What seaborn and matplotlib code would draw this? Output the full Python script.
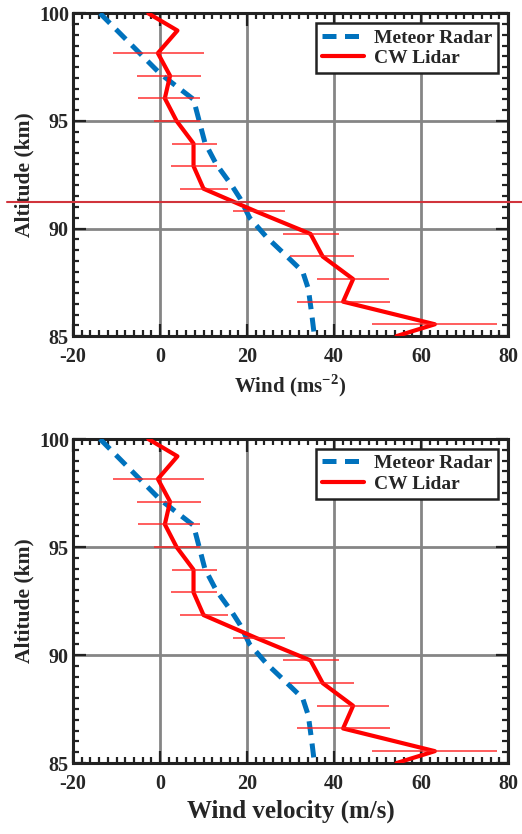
import numpy as np
import pandas as pd
import matplotlib
matplotlib.use('Agg')
import matplotlib.pyplot as plt
from matplotlib.ticker import MultipleLocator
import seaborn as sns

# Meteor radar profile
radar_alt = [100.0, 97.2, 96.0, 95.0, 94.0, 93.0, 92.0, 91.4, 90.5, 89.6, 88.7, 88.0, 87.2, 86.0, 85.0]
radar_wind = [-13.8, 0.0, 7.7, 9.0, 10.3, 12.9, 16.5, 18.4, 20.6, 24.5, 29.2, 32.8, 34.1, 34.9, 35.5]

# CW lidar profile
lidar_alt = [100.0, 99.2, 98.15, 97.1, 96.05, 95.0, 93.95, 92.9, 91.85, 90.8, 89.75, 88.7, 87.65, 86.6, 85.55, 85.0]
lidar_wind = [-2.7, 4.0, -0.5, 2.3, 1.1, 3.8, 7.7, 7.7, 10.0, 22.0, 34.6, 37.4, 44.4, 42.1, 63.2, 54.4]

# lidar error bars (left / right ends)
bar_alt = [98.15, 97.1, 96.05, 95.0, 93.95, 92.9, 91.85, 90.8, 89.75, 88.7, 87.65, 86.6, 85.55]
bar_lo = [-10.9, -5.2, -5.0, -1.4, 2.7, 2.6, 4.6, 16.7, 28.3, 30.0, 36.0, 31.5, 48.8]
bar_hi = [10.0, 9.4, 9.2, 9.2, 13.0, 13.0, 15.6, 28.7, 41.2, 44.6, 52.7, 52.9, 77.5]

xticks = [-20, 0, 20, 40, 60, 80]
yticks = [85, 90, 95, 100]
marker_alt = 91.22  # stray red line across the top panel

sns.set_style('white')
plt.rcParams['font.family'] = ['Liberation Serif', 'DejaVu Serif']
plt.rcParams['font.weight'] = 'bold'
plt.rcParams['axes.labelweight'] = 'bold'
plt.rcParams['axes.unicode_minus'] = False
plt.rcParams['mathtext.fontset'] = 'custom'
plt.rcParams['mathtext.rm'] = 'Liberation Serif:bold'
plt.rcParams['mathtext.bf'] = 'Liberation Serif:bold'

radar = pd.DataFrame({'alt': radar_alt, 'wind': radar_wind})
lidar = pd.DataFrame({'alt': lidar_alt, 'wind': lidar_wind})
bars = pd.DataFrame({'alt': bar_alt, 'lo': bar_lo, 'hi': bar_hi})

fig = plt.figure(figsize=(5.22, 8.34), dpi=100)
ax1 = fig.add_axes([0.140, 0.597, 0.833, 0.387])
ax2 = fig.add_axes([0.140, 0.0851, 0.833, 0.3885])


def draw_panel(ax, xlabel, xlabel_size):
    ax.grid(True, which='major', color='#858585', lw=2.0, zorder=0)
    ax.set_axisbelow(True)
    sns.lineplot(data=radar, x='wind', y='alt', sort=False, estimator=None, ax=ax,
                 color='#0072BD', lw=3.6, linestyle=(0, (2.8, 1.7)),
                 label='Meteor Radar', zorder=3)
    sns.lineplot(data=lidar, x='wind', y='alt', sort=False, estimator=None, ax=ax,
                 color='#ff0000', lw=3.0, label='CW Lidar', zorder=4)
    ax.hlines(bars['alt'], bars['lo'], bars['hi'], color='#ff2020', lw=1.2,
              alpha=0.85, zorder=4)

    ax.set_xlim(-20, 80)
    ax.set_ylim(85, 100)
    ax.set_xticks(xticks)
    ax.set_yticks(yticks)
    ax.xaxis.set_minor_locator(MultipleLocator(2))
    ax.yaxis.set_minor_locator(MultipleLocator(0.5))
    ax.tick_params(which='both', direction='in', top=True, right=True,
                   bottom=True, left=True, width=1.6, color='#222222')
    ax.tick_params(which='major', length=9, labelsize=14.5)
    ax.tick_params(axis='x', which='major', pad=8)
    ax.tick_params(axis='y', which='major', pad=3)
    ax.tick_params(which='minor', length=4.5)
    for lab in ax.get_xticklabels() + ax.get_yticklabels():
        lab.set_fontweight('bold')
    for sp in ax.spines.values():
        sp.set_linewidth(2.2)
        sp.set_color('#222222')

    ax.set_xlabel(xlabel, fontsize=xlabel_size, fontweight='bold', labelpad=4)
    ax.set_ylabel('Altitude (km)', fontsize=15.5, fontweight='bold', labelpad=3)

    leg = ax.legend(loc='upper right', fontsize=14, frameon=True, fancybox=False,
                    framealpha=1, edgecolor='#222222', borderpad=0.3,
                    handlelength=2.2, handletextpad=0.5, labelspacing=0.15,
                    borderaxespad=0.5)
    leg.get_frame().set_linewidth(1.8)
    for t in leg.get_texts():
        t.set_fontweight('bold')


draw_panel(ax1, 'Wind (ms$^{\\mathbf{-2}}$)', 15)
draw_panel(ax2, 'Wind velocity (m/s)', 18)

ax1.axhline(marker_alt, xmin=-0.152, xmax=1.035, color='#d1343c', lw=1.5,
            clip_on=False, zorder=6)

fig.savefig('out.png', dpi=100)
